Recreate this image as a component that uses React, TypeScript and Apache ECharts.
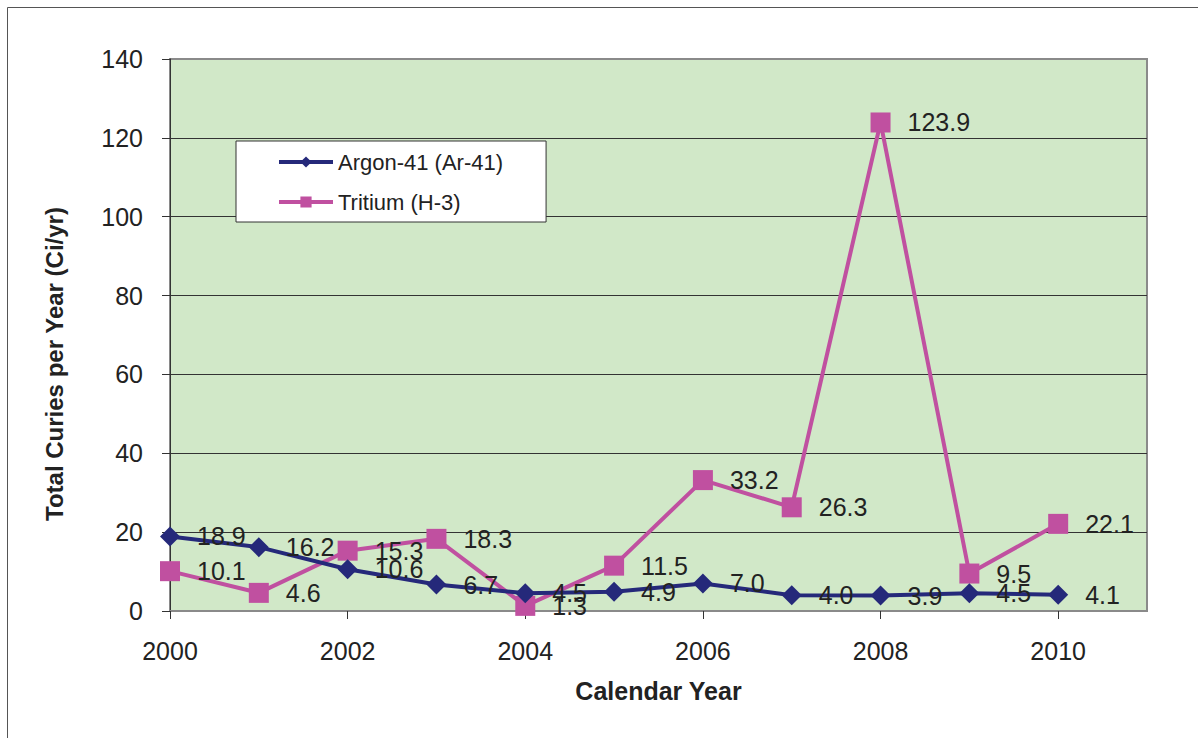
import React, { useEffect, useRef } from "react";
import * as echarts from "echarts";

const years = [2000, 2001, 2002, 2003, 2004, 2005, 2006, 2007, 2008, 2009, 2010];
const argon = [18.9, 16.2, 10.6, 6.7, 4.5, 4.9, 7.0, 4.0, 3.9, 4.5, 4.1];
const tritium = [10.1, 4.6, 15.3, 18.3, 1.3, 11.5, 33.2, 26.3, 123.9, 9.5, 22.1];
const xTickValues = [2000, 2002, 2004, 2006, 2008, 2010];

const FONT = "'Liberation Sans', Arial, Helvetica, sans-serif";

export default function App() {
  const ref = useRef<HTMLDivElement>(null);
  useEffect(() => {
    if (!ref.current) return;
    const chart = echarts.init(ref.current, undefined, { renderer: "svg" });
    const labelCfg = {
      show: true,
      position: "right",
      distance: 17,
      fontSize: 25,
      color: "#222",
      fontFamily: FONT,
      formatter: (p: any) => Number(p.value[1]).toFixed(1),
    };
    chart.setOption({
      animation: false,
      backgroundColor: "#fff",
      textStyle: { fontFamily: FONT },
      grid: {
        left: 170,
        top: 59,
        right: 51,
        bottom: 127,
        show: true,
        backgroundColor: "#d1e8c8",
        borderColor: "#8a8a8a",
        borderWidth: 2,
      },
      legend: {
        left: 236,
        top: 141,
        orient: "vertical",
        backgroundColor: "#fff",
        borderColor: "#333",
        borderWidth: 1,
        padding: [10, 43, 9, 41],
        itemGap: 18,
        itemWidth: 54,
        itemHeight: 14,
        selectedMode: false,
        lineStyle: { width: 4 },
        textStyle: { fontSize: 22, color: "#222", fontFamily: FONT },
        data: ["Argon-41 (Ar-41)", "Tritium (H-3)"],
      },
      xAxis: {
        type: "value",
        min: 2000,
        max: 2011,
        interval: 1,
        name: "Calendar Year",
        nameLocation: "middle",
        nameGap: 67,
        nameTextStyle: { fontSize: 25, fontWeight: "bold", color: "#222", fontFamily: FONT },
        axisLine: { show: true, lineStyle: { color: "#8a8a8a", width: 2 } },
        axisTick: {
          show: true,
          length: 8,
          lineStyle: { color: "#333", width: 1 },
          customValues: xTickValues,
        },
        axisLabel: {
          fontSize: 25,
          color: "#222",
          margin: 27,
          fontFamily: FONT,
          customValues: xTickValues,
          formatter: (v: number) => String(v),
        },
        splitLine: { show: false },
      },
      yAxis: {
        type: "value",
        min: 0,
        max: 140,
        interval: 20,
        axisLine: { show: true, lineStyle: { color: "#333", width: 1 } },
        axisTick: { show: true, length: 8, lineStyle: { color: "#333", width: 1 } },
        axisLabel: { fontSize: 25, color: "#222", margin: 27, fontFamily: FONT },
        splitLine: { show: true, showMaxLine: false, lineStyle: { color: "#333", width: 1 } },
      },
      graphic: [
        {
          type: "rect",
          shape: { x: 7.5, y: 7.5, width: 1300, height: 800 },
          style: { fill: "none", stroke: "#555", lineWidth: 1 },
          silent: true,
        },
        {
          type: "text",
          x: 54,
          y: 364,
          rotation: Math.PI / 2,
          style: {
            text: "Total Curies per Year (Ci/yr)",
            fontSize: 24,
            fontWeight: "bold",
            fill: "#222",
            fontFamily: FONT,
            textAlign: "center",
            textVerticalAlign: "middle",
          },
        },
      ],
      series: [
        {
          name: "Argon-41 (Ar-41)",
          type: "line",
          data: years.map((y, i) => [y, argon[i]]),
          symbol: "diamond",
          symbolSize: 20,
          lineStyle: { color: "#25297a", width: 4 },
          itemStyle: { color: "#25297a" },
          label: labelCfg,
          z: 3,
        },
        {
          name: "Tritium (H-3)",
          type: "line",
          data: years.map((y, i) => [y, tritium[i]]),
          symbol: "rect",
          symbolSize: 20,
          lineStyle: { color: "#c050a0", width: 4 },
          itemStyle: { color: "#c050a0" },
          label: labelCfg,
          z: 2,
        },
      ],
    });
    return () => chart.dispose();
  }, []);
  return (
    <div
      ref={ref}
      style={{ position: "absolute", left: 0, top: 0, width: 1198, height: 738, overflow: "hidden" }}
    />
  );
}
